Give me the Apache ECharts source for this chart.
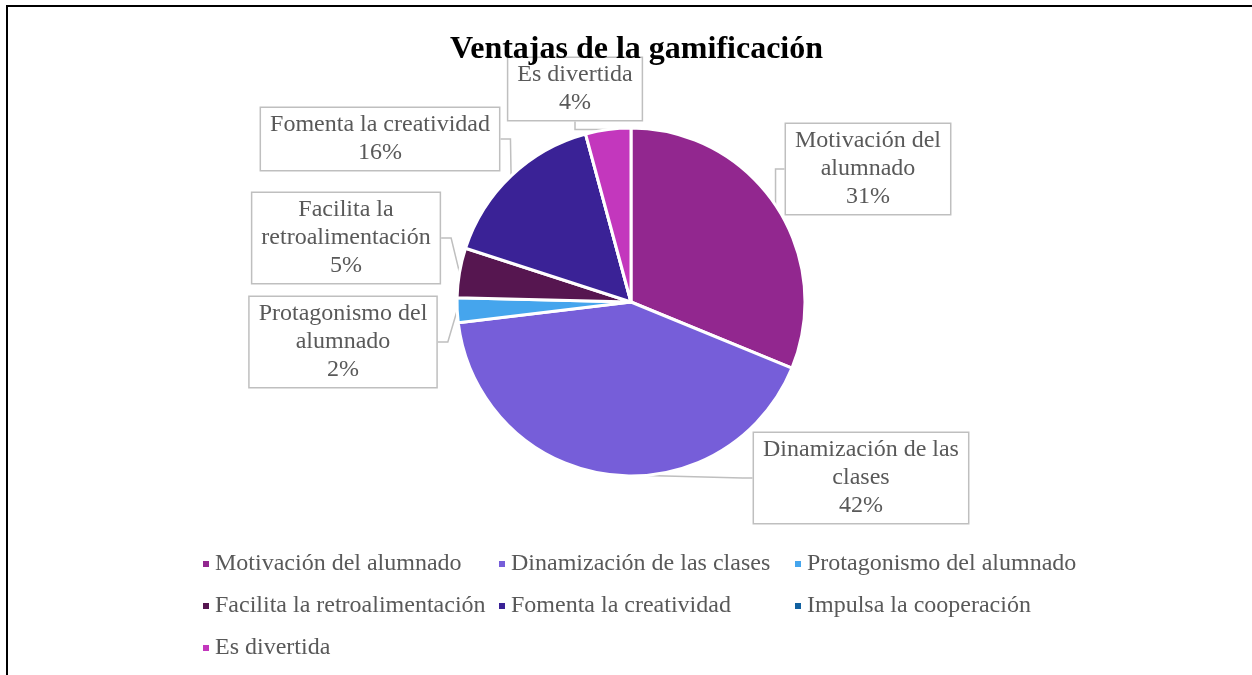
<!DOCTYPE html>
<html>
<head>
<meta charset="utf-8">
<script src="https://cdn.jsdelivr.net/npm/echarts@6/dist/echarts.min.js"></script>
<style>
  html, body { margin: 0; padding: 0; background: #fff; }
  #frame { position: absolute; left: 6px; top: 5px; width: 1252px; height: 680px;
           border-top: 2px solid #000; border-left: 2px solid #000; }
  #chart { position: absolute; left: 0; top: 0; width: 1252px; height: 675px; }
</style>
</head>
<body>
<div id="frame"></div>
<div id="chart"></div>
<script>
// datos (porcentajes)
var categorias = ['Motivación del alumnado', 'Dinamización de las clases', 'Protagonismo del alumnado',
  'Facilita la retroalimentación', 'Fomenta la creatividad', 'Impulsa la cooperación', 'Es divertida']
var valores = [31.2, 41.9, 2.3, 4.6, 15.8, 0, 4.2]
// texto de las etiquetas tal como se corta en el original
var etiquetas = ['Motivación del\nalumnado', 'Dinamización de las\nclases', 'Protagonismo del\nalumnado',
  'Facilita la\nretroalimentación', 'Fomenta la creatividad', 'Impulsa la cooperación', 'Es divertida']
var colores = ['#92278f', '#765ed9', '#45a5ed', '#561650', '#3a2296', '#1261a0', '#c337bd']

// centro de cada cuadro de etiqueta
var posEtiqueta = [[868, 169], [861, 478], [343, 342], [346, 238], [380, 139], [0, 0], [575, 89]]

var chart = echarts.init(document.getElementById('chart'))

var data = []
for (var i = 0; i < categorias.length; i++) {
  var item = {
    name: categorias[i],
    value: valores[i],
    itemStyle: { color: colores[i] }
  }
  if (valores[i] == 0) {
    item.label = { show: false }
    item.labelLine = { show: false }
  }
  data.push(item)
}

chart.setOption({
  animation: false,
  title: {
    text: 'Ventajas de la gamificación',
    left: 445,
    top: 29,
    textStyle: {
      fontFamily: 'Liberation Serif',
      fontSize: 32,
      fontWeight: 'bold',
      color: '#000'
    }
  },
  legend: {
    data: categorias,
    left: 196,
    top: 543,
    width: 900,
    icon: 'rect',
    itemWidth: 8,
    itemHeight: 8,
    itemGap: 10,
    textStyle: {
      fontFamily: 'Liberation Serif',
      fontSize: 24,
      color: '#595959',
      width: 272,
      lineHeight: 32
    }
  },
  series: [
    {
      type: 'pie',
      center: [631, 302],
      radius: 174,
      startAngle: 90,
      clockwise: true,
      avoidLabelOverlap: false,
      itemStyle: {
        borderColor: '#fff',
        borderWidth: 3
      },
      label: {
        show: true,
        position: 'outside',
        formatter: function (p) {
          return etiquetas[p.dataIndex] + '\n' + Math.round(p.value) + '%'
        },
        fontFamily: 'Liberation Serif',
        fontSize: 24,
        lineHeight: 28,
        color: '#595959',
        align: 'center',
        backgroundColor: '#fff',
        borderColor: '#bfbfbf',
        borderWidth: 1.5,
        padding: [3, 9, 3, 9]
      },
      labelLine: {
        show: true,
        length: 10,
        length2: 10,
        lineStyle: { color: '#bfbfbf', width: 1.5 }
      },
      labelLayout: function (params) {
        var p = posEtiqueta[params.dataIndex]
        return {
          x: p[0],
          y: p[1],
          align: 'center',
          verticalAlign: 'middle'
        }
      },
      data: data
    }
  ]
})
</script>
</body>
</html>
